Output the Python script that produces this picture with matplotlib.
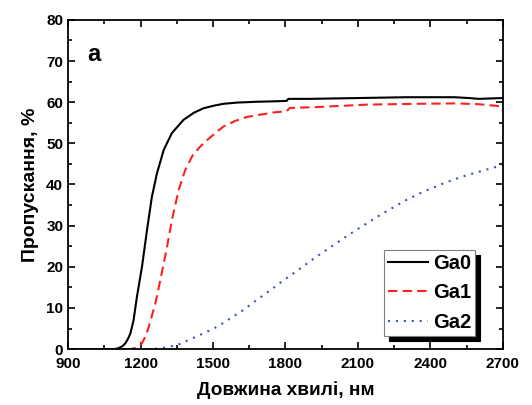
import numpy as np
import matplotlib.pyplot as plt
from matplotlib.ticker import MultipleLocator

plt.rcParams['font.family'] = ['Liberation Sans', 'DejaVu Sans']
plt.rcParams['font.weight'] = 'bold'

# values
ga0_x = [900, 1090, 1108, 1125, 1137, 1148, 1158, 1171, 1185, 1206, 1227, 1247, 1268,
         1296, 1330, 1378, 1420, 1460, 1500, 1543, 1600, 1682, 1750, 1805, 1812,
         1900, 2000, 2100, 2200, 2300, 2400, 2500, 2560, 2600, 2650, 2700]
ga0_y = [0, 0, 0.2, 0.7, 1.4, 2.5, 3.8, 7, 12.7, 20, 29, 37, 42.7,
         48.4, 52.5, 55.7, 57.4, 58.5, 59.1, 59.6, 59.9, 60.1, 60.2, 60.3, 60.8,
         60.8, 60.9, 61.0, 61.1, 61.2, 61.2, 61.2, 61.0, 60.8, 60.9, 61.0]

ga1_x = [900, 1160, 1185, 1205, 1220, 1234, 1261, 1282, 1310, 1330, 1358, 1385,
         1415, 1447, 1480, 1516, 1544, 1590, 1640, 1700, 1751, 1805, 1818,
         1929, 2135, 2342, 2507, 2600, 2658, 2690, 2700]
ga1_y = [0, 0, 0.4, 1.4, 3, 5.4, 11, 16.8, 24.9, 31.4, 38.7, 43.5,
         47, 49.2, 51, 52.8, 54.1, 55.4, 56.4, 57.0, 57.5, 57.8, 58.6,
         58.8, 59.4, 59.6, 59.7, 59.5, 59.2, 59.0, 58.0]

ga2_x = [900, 1240, 1280, 1323, 1365, 1406, 1460, 1516, 1570, 1626, 1680, 1737,
         1785, 1833, 1880, 1930, 1985, 2040, 2100, 2204, 2300, 2369, 2460, 2548,
         2620, 2686, 2700]
ga2_y = [0, 0, 0.2, 0.6, 1.3, 2.4, 3.8, 5.4, 7.4, 9.5, 11.9, 14.3,
         16.4, 18.4, 20.4, 22.5, 24.7, 26.9, 29.2, 33, 36.2, 38.2, 40.4, 42.2,
         43.4, 44.5, 44.8]

fig = plt.figure(figsize=(5.32, 4.05), dpi=100)
ax = fig.add_axes([0.128, 0.138, 0.817, 0.813])

ax.plot(ga0_x, ga0_y, color='black', lw=1.5, label='Ga0')
ax.plot(ga1_x, ga1_y, color='#ff2020', lw=1.5, ls=(0, (4.5, 2.5)), label='Ga1')
ax.plot(ga2_x, ga2_y, color='#3a55b5', lw=1.5, ls=(0, (1, 2.8)), label='Ga2')

ax.set_xlim(900, 2700)
ax.set_ylim(0, 80)
ax.xaxis.set_major_locator(MultipleLocator(300))
ax.xaxis.set_minor_locator(MultipleLocator(150))
ax.yaxis.set_major_locator(MultipleLocator(10))
ax.yaxis.set_minor_locator(MultipleLocator(5))
ax.tick_params(which='both', direction='in', top=True, right=True, width=1.2,
               labelsize=11)
ax.tick_params(which='major', length=5)
ax.tick_params(which='minor', length=3)
ax.tick_params(axis='x', pad=6)
for s in ax.spines.values():
    s.set_linewidth(1.3)

ax.set_xlabel('Довжина хвилі, нм', fontsize=13.7, fontweight='bold', labelpad=7)
ax.set_ylabel('Пропускання, %', fontsize=14, fontweight='bold', labelpad=5)

ax.text(0.045, 0.93, 'a', transform=ax.transAxes, fontsize=17,
        fontweight='bold', va='top')

leg = ax.legend(loc='lower right', bbox_to_anchor=(0.936, 0.04), fontsize=14.5,
                handlelength=1.95, fancybox=False, edgecolor='gray',
                shadow={'color': 'black', 'alpha': 1, 'ox': 3.5, 'oy': -3.5},
                borderaxespad=0, labelspacing=0.52, handletextpad=0.25,
                borderpad=0.2)
leg.get_frame().set_linewidth(0.8)

fig.savefig('out.png', dpi=100)
